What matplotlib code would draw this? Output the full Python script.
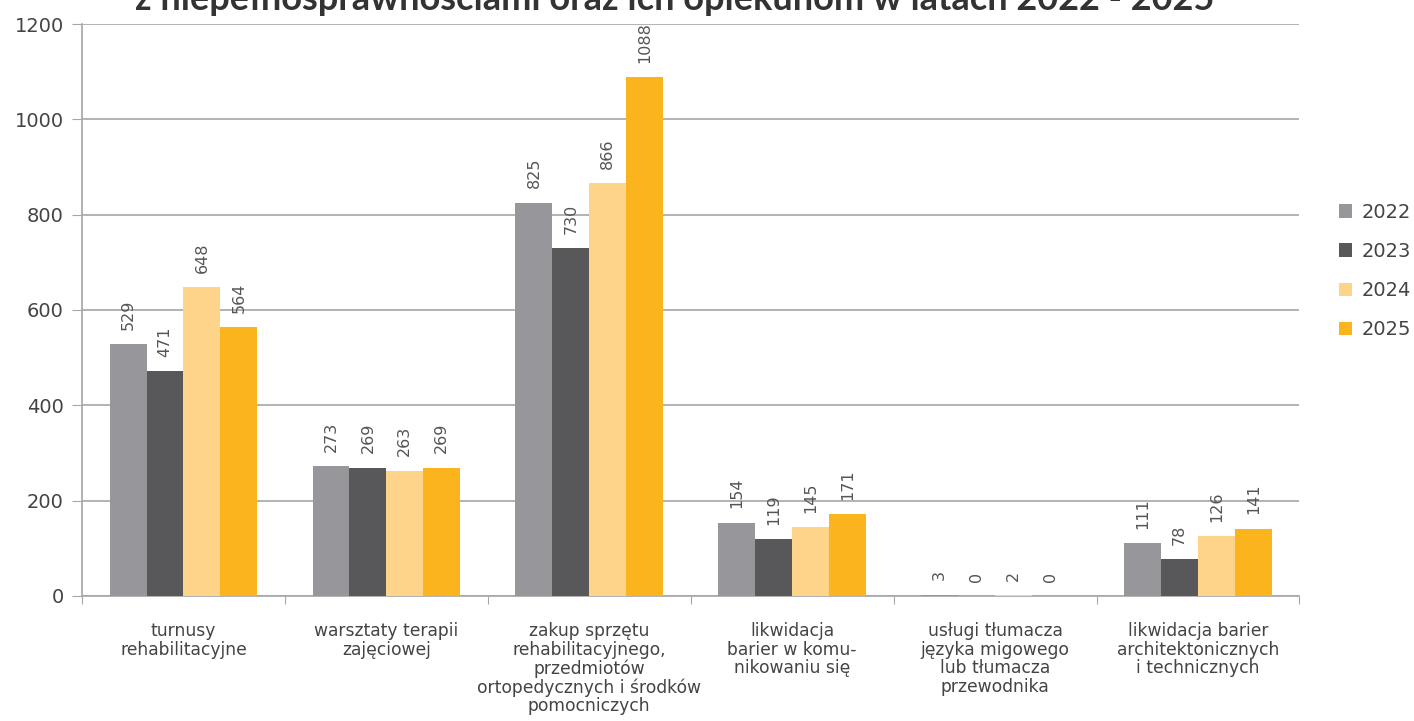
import numpy as np
import matplotlib
matplotlib.use("Agg")
import matplotlib.pyplot as plt

categories = [
    "turnusy\nrehabilitacyjne",
    "warsztaty terapii\nzajęciowej",
    "zakup sprzętu\nrehabilitacyjnego,\nprzedmiotów\nortopedycznych i środków\npomocniczych",
    "likwidacja\nbarier w komu-\nnikowaniu się",
    "usługi tłumacza\njęzyka migowego\nlub tłumacza\nprzewodnika",
    "likwidacja barier\narchitektonicznych\ni technicznych",
]
years = ["2022", "2023", "2024", "2025"]
v2022 = [529, 273, 825, 154, 3, 111]
v2023 = [471, 269, 730, 119, 0, 78]
v2024 = [648, 263, 866, 145, 2, 126]
v2025 = [564, 269, 1088, 171, 0, 141]
colors = ["#97979b", "#58585a", "#fdd48a", "#fbb41e"]

series = [v2022, v2023, v2024, v2025]

fig = plt.figure(figsize=(14.14, 7.21), dpi=100)
ax = fig.add_axes([0.058, 0.1734, 0.861, 0.7933])

x = np.arange(len(categories))
w = 0.182
for i, (vals, col, yr) in enumerate(zip(series, colors, years)):
    pos = x + (i - 1.5) * w
    ax.bar(pos, vals, width=w, color=col, label=yr, zorder=3)
    for p, v in zip(pos, vals):
        ax.text(p, v + 30, str(v), rotation=90, ha="center", va="bottom",
                fontsize=11.5, color="#555555", zorder=4)

ax.set_xlim(-0.5, len(categories) - 0.5)
ax.set_ylim(0, 1200)
ax.set_yticks(range(0, 1201, 200))
ax.yaxis.grid(True, color="#a6a6a6", linewidth=1.2, zorder=0)

# category labels sit between the boundary ticks
ax.set_xticks(np.arange(len(categories) + 1) - 0.5)
ax.set_xticklabels([])
ax.set_xticks(x, minor=True)
ax.set_xticklabels(categories, minor=True, fontsize=12.3, color="#444444",
                   linespacing=1.03)
ax.tick_params(axis="x", which="minor", length=0, pad=19)
ax.tick_params(axis="x", which="major", length=6, color="#a6a6a6")
ax.tick_params(axis="y", length=7, color="#a6a6a6", labelsize=14,
               labelcolor="#444444", pad=6)

for s in ["top", "right"]:
    ax.spines[s].set_visible(False)
for s in ["left", "bottom"]:
    ax.spines[s].set_color("#a6a6a6")
    ax.spines[s].set_linewidth(1.2)

ax.legend(loc="upper left", bbox_to_anchor=(1.018, 0.718), frameon=False,
          fontsize=14, handlelength=0.7, handleheight=0.7, handletextpad=0.45,
          labelspacing=1.04, labelcolor="#444444")

fig.text(0.477, 0.986,
         "z niepełnosprawnościami oraz ich opiekunom w latach 2022 - 2025",
         ha="center", va="baseline", fontsize=26, fontweight="bold",
         color="#333333", family="Lato")

fig.savefig("out.png", dpi=100)
